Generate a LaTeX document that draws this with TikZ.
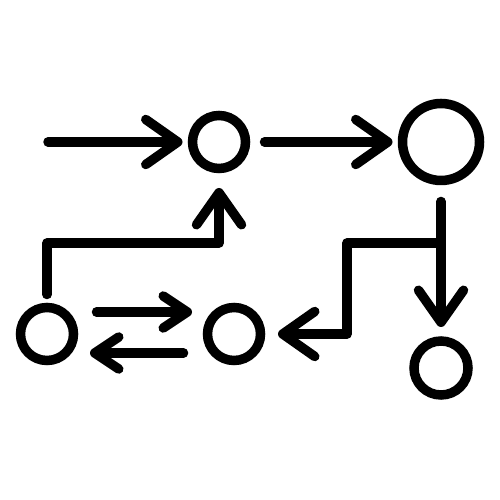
\documentclass[tikz,border=0pt]{standalone}
\usepackage{tikz}
\usetikzlibrary{arrows.meta}

\begin{document}
\begin{tikzpicture}[x=0.1mm,y=-0.1mm,
  stage/.style={circle,draw,line width=0.95mm,inner sep=0pt,outer sep=1mm,minimum size=5.3mm},
  flow/.style={line width=0.95mm,line cap=round,line join=round,-{Straight Barb[length=3.2mm,width=4.5mm,round]}},
  swap/.style={flow,-{Straight Barb[length=2.4mm,width=3.2mm,round]}}]
\useasboundingbox (0,0) rectangle (500,500);

% Stages
\node[stage] (C1) at (219,142) {};
\node[stage,minimum size=7.7mm] (C2) at (441,142) {};
\node[stage] (C3) at (47,334) {};
\node[stage] (C4) at (234,334) {};
\node[stage,minimum size=5.4mm] (C5) at (441,368) {};

% Top row
\coordinate (in) at (48,142);
\draw[flow] (in) -- (C1.west);
\draw[flow,shorten <=0.9mm] (C1.east) -- (C2.west);

% Right side and branch
\coordinate (br) at (441,243);
\draw[flow,shorten <=1.1mm,shorten >=0.4mm] (C2.south) -- (C5.north);
\draw[flow,shorten >=0.75mm] (br) -- ++(-94,0) |- (C4.east);

% Left side up to the first stage
\draw[flow,shorten <=0.3mm,shorten >=0.95mm] (C3.north) |- (C1.south |- br) -- (C1.south);

% Back and forth
\draw[swap] ([xshift=1.3mm,yshift=2.2mm]C3.east) -- ([xshift=-0.55mm,yshift=2.2mm]C4.west);
\draw[swap] ([xshift=-1.4mm,yshift=-1.9mm]C4.west) -- ([xshift=0.65mm,yshift=-1.9mm]C3.east);
\end{tikzpicture}
\end{document}
